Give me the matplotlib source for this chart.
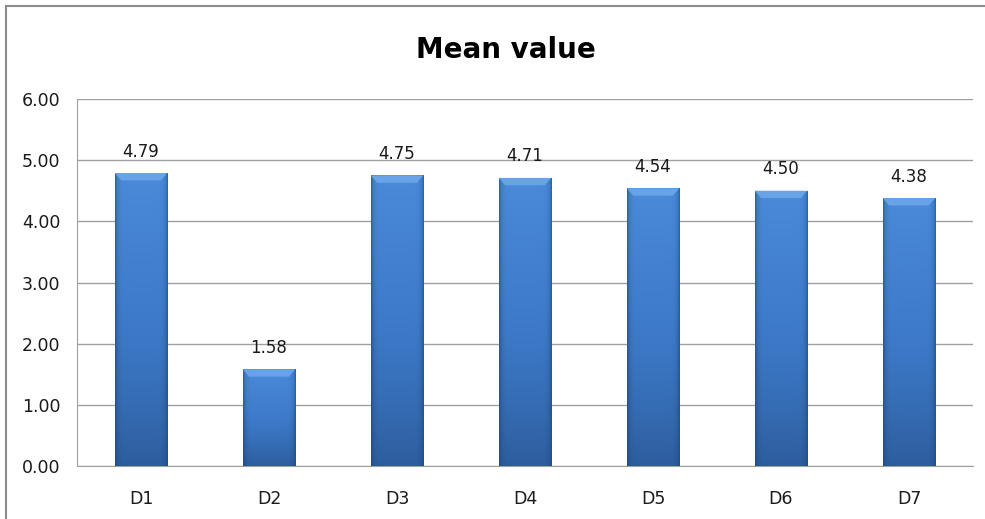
import numpy as np
import matplotlib
matplotlib.use("Agg")
import matplotlib.pyplot as plt
from matplotlib.patches import Rectangle, Polygon
from matplotlib.colors import LinearSegmentedColormap

categories = ["D1", "D2", "D3", "D4", "D5", "D6", "D7"]
means = [4.79, 1.58, 4.75, 4.71, 4.54, 4.50, 4.38]

W, H = 985, 519
fig = plt.figure(figsize=(W / 100, H / 100), dpi=100)
fig.patch.set_facecolor("white")

# outer chart border (runs off the right and bottom edges)
fig.patches.append(Rectangle((6 / W, -0.1), 1.2, (H - 6) / H + 0.1,
                             transform=fig.transFigure, fill=False,
                             edgecolor="#8c8c8c", linewidth=1.5))

ax = fig.add_axes([77 / W, 53 / H, 896 / W, 367 / H])
x = np.arange(len(categories))
width = 0.41

bars = ax.bar(x, means, width=width, color="#3d78c4", zorder=2)

# shading for each bar: darker toward the sides and the base
cmap = LinearSegmentedColormap.from_list("barshade", ["#1f4475", "#2c5b99", "#3b77c5", "#4a8ad8"])
hx = np.linspace(-1, 1, 80)
side = 1 - 0.6 * np.abs(hx) ** 10
for rect, v in zip(bars, means):
    vy = np.linspace(0, 1, 100)[:, None]
    shade = (0.35 + 0.65 * vy ** 0.8) * side[None, :]
    x0 = rect.get_x()
    im = ax.imshow(shade, cmap=cmap, vmin=0, vmax=1, origin="lower",
                   extent=[x0, x0 + width, 0, v], aspect="auto", zorder=3)
    im.set_clip_path(rect)
    # bevelled top cap
    bx = 0.05
    by = 0.12
    cap = Polygon([[x0, v], [x0 + width, v], [x0 + width - bx, v - by], [x0 + bx, v - by]],
                  closed=True, facecolor="#68a3e8", edgecolor="none", zorder=4)
    ax.add_patch(cap)
    ax.annotate(f"{v:.2f}", (x0 + width / 2, v), xytext=(0, 9), textcoords="offset points",
                ha="center", va="bottom", fontsize=12, color="#1a1a1a")

ax.set_xlim(-0.5, len(categories) - 0.5)
ax.set_ylim(0, 6)
ax.set_yticks(np.arange(0, 7, 1))
ax.set_yticklabels([f"{t:.2f}" for t in range(7)])
ax.set_xticks(x)
ax.set_xticklabels(categories)
ax.tick_params(axis="y", length=0, pad=12, labelsize=12.5, labelcolor="#1a1a1a")
ax.tick_params(axis="x", length=0, pad=17, labelsize=12.5, labelcolor="#1a1a1a")
ax.grid(axis="y", color="#a0a0a0", linewidth=1, zorder=0)
ax.set_axisbelow(True)
for s in ["top", "right"]:
    ax.spines[s].set_visible(False)
ax.spines["left"].set_color("#a0a0a0")
ax.spines["bottom"].set_color("#a0a0a0")

fig.text(506 / W, 1 - 50 / H, "Mean value", ha="center", va="center",
         fontsize=20, fontweight="bold", color="black")

fig.savefig("out.png", dpi=100)
